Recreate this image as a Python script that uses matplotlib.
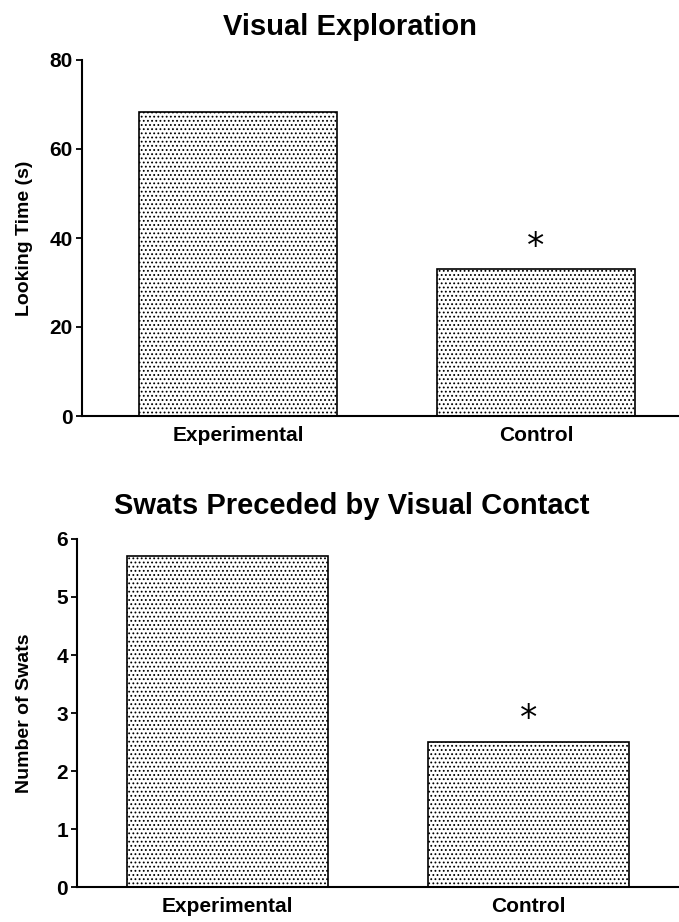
import matplotlib
matplotlib.use("Agg")
import matplotlib.pyplot as plt

plt.rcParams['font.family'] = ['Liberation Sans', 'DejaVu Sans']
plt.rcParams['hatch.linewidth'] = 0.8

# data
groups = ["Experimental", "Control"]
looking_time = [68.3, 33.0]
swats = [5.7, 2.5]
looking_ticks = [0, 20, 40, 60, 80]
swat_ticks = [0, 1, 2, 3, 4, 5, 6]
marked = [False, True]  # significance star


def draw_panel(ax, values, ticks, title, ylabel, xlim, width, title_x, label_x):
    x = list(range(len(values)))
    ax.bar(x, values, width=width, color="white", edgecolor="black",
           linewidth=1.2, hatch="....")
    for xi, v, m in zip(x, values, marked):
        if m:
            ax.annotate("*", (xi, v), xytext=(0, 4), textcoords="offset points",
                        ha="center", va="bottom", fontsize=25,
                        family="DejaVu Sans")
    ax.set_xlim(xlim)
    ax.set_ylim(ticks[0], ticks[-1])
    ax.set_yticks(ticks)
    ax.set_xticks(x)
    ax.set_xticklabels(groups, fontweight="bold", fontsize=15)
    ax.tick_params(axis="x", length=0, pad=7)
    ax.tick_params(axis="y", length=4.5, width=1.3, labelsize=15, pad=2)
    for lab in ax.get_yticklabels():
        lab.set_fontweight("bold")
    ax.spines["top"].set_visible(False)
    ax.spines["right"].set_visible(False)
    ax.spines["left"].set_linewidth(1.5)
    ax.spines["bottom"].set_linewidth(1.5)
    ax.set_ylabel(ylabel, fontweight="bold", fontsize=14)
    ax.yaxis.set_label_coords(label_x, 0.5)
    ax.set_title(title, fontweight="bold", fontsize=21, pad=18, x=title_x)


W, H = 679, 922
fig = plt.figure(figsize=(W / 100, H / 100), dpi=100)

# axes rectangles in pixels: left, right, top, bottom
ax1 = fig.add_axes([82 / W, 1 - 416 / H, (679 - 82) / W, (416 - 60) / H])
ax2 = fig.add_axes([77 / W, 1 - 887 / H, (679 - 77) / W, (887 - 539) / H])

draw_panel(ax1, looking_time, looking_ticks, "Visual Exploration",
           "Looking Time (s)", (-0.523, 1.48), 0.664, 0.449, -0.082)
draw_panel(ax2, swats, swat_ticks, "Swats Preceded by Visual Contact",
           "Number of Swats", (-0.50, 1.50), 0.666, 0.457, -0.073)

fig.savefig("out.png", dpi=100)
